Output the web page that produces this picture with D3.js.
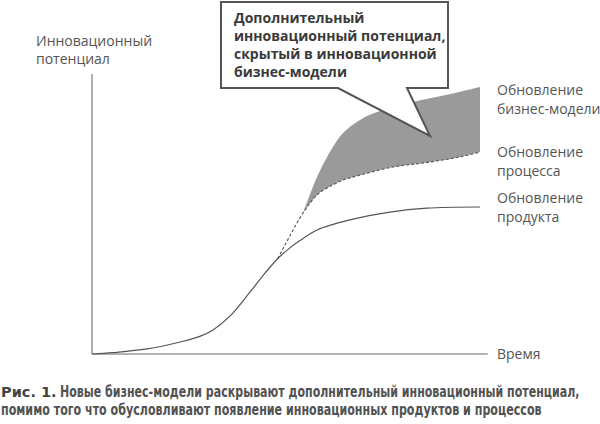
<!DOCTYPE html>
<html><head><meta charset="utf-8">
<script src="https://cdn.jsdelivr.net/npm/d3@7"></script>
<style>html,body{margin:0;padding:0;background:#fff;}</style>
</head><body>
<svg id="c" width="600" height="424"></svg>
<script>
// ---- data (x: time 0..100, y: innovation potential 0..100) ----
const productCurve = [[0,0],[5.4,0.5],[14.2,1.8],[22.7,4.3],[27.8,6.3],[31.2,8.6],[35.6,13.6],[40.7,22.1],[44.6,28.9],[47.9,34.1],[51,37.9],[53.6,40.5],[58,44.3],[66.5,47.9],[76.8,50.7],[86.3,52.1],[100,52.5]];
const processCurve = [[47.9,34.1],[54.4,50.4],[58,56.8],[60.6,59.3],[64.7,62.1],[69.1,63.9],[77.6,66.8],[86.3,68.4],[94.8,70.4],[100,72.1]];
const businessModelCurve = [[54.4,50.4],[58,63.2],[60.6,70.4],[64.7,78.9],[69.1,83.6],[73.5,86.4],[82.7,90],[91.5,92.6],[100,95.4]];
const seriesLabels = [
  {lines:["Обновление","бизнес-модели"], y0:95},
  {lines:["Обновление","процесса"], y0:157},
  {lines:["Обновление","продукта"], y0:203}
];
const yAxisLabel = ["Инновационный","потенциал"];
const xAxisLabel = "Время";
const calloutLines = ["Дополнительный","инновационный потенциал,","скрытый в инновационной","бизнес-модели"];
const captionBold = "Рис. 1.";
const captionLines = ["Новые бизнес-модели раскрывают дополнительный инновационный потенциал,","помимо того что обусловливают появление инновационных продуктов и процессов"];

const svg = d3.select("#c");
const x = d3.scaleLinear().domain([0,100]).range([92,480]);
const y = d3.scaleLinear().domain([0,100]).range([354,74]);
const xEnd = 102;

const line = d3.line().x(d=>x(d[0])).y(d=>y(d[1])).curve(d3.curveCatmullRom.alpha(0.5));

// shaded area between business model curve and process curve
const procTail = processCurve.filter(d=>d[0]>=54.4);
const topPath = line(businessModelCurve);
const botPath = line(procTail.slice().reverse());
svg.append("path").attr("d", topPath + "L" + botPath.slice(1) + "Z")
  .attr("fill","#9a9a9a").attr("stroke","none");

// axes
svg.append("line").attr("x1",x(0)).attr("x2",x(0)).attr("y1",y(0)).attr("y2",y(100))
  .attr("stroke","#8a8a8a").attr("stroke-width",1.4);
svg.append("line").attr("x1",x(0)).attr("x2",x(xEnd)).attr("y1",y(0)).attr("y2",y(0))
  .attr("stroke","#9a9a9a").attr("stroke-width",1.6);

// curves
svg.append("path").attr("d",line(processCurve)).attr("fill","none")
  .attr("stroke","#555").attr("stroke-width",1.1).attr("stroke-dasharray","3,2");
svg.append("path").attr("d",line(productCurve)).attr("fill","none")
  .attr("stroke","#555").attr("stroke-width",1.2);

// series labels
const lab = svg.append("g").attr("font-family","'Open Sans', sans-serif").attr("font-size",14).attr("fill","#555");
seriesLabels.forEach(s=>{
  s.lines.forEach((t,i)=>lab.append("text").attr("x",497).attr("y",s.y0+i*19).text(t));
});
yAxisLabel.forEach((t,i)=>lab.append("text").attr("x",36).attr("y",46+i*18).text(t));
lab.append("text").attr("x",497).attr("y",359).text(xAxisLabel);

// callout
const co = {l:221,t:2,r:448,b:88,p1:338,p2:407,tipX:430,tipY:136};
const cpath = d3.path();
cpath.moveTo(co.l,co.t); cpath.lineTo(co.r,co.t); cpath.lineTo(co.r,co.b); cpath.lineTo(co.p2,co.b);
cpath.lineTo(co.tipX,co.tipY); cpath.lineTo(co.p1,co.b); cpath.lineTo(co.l,co.b); cpath.closePath();
svg.append("path").attr("d",cpath.toString()).attr("fill","#fff").attr("stroke","#555").attr("stroke-width",2).attr("stroke-linejoin","miter");
const ct = svg.append("g").attr("font-family","'Open Sans', sans-serif").attr("font-size",14).attr("font-weight","bold").attr("fill","#3a3a3a");
calloutLines.forEach((t,i)=>ct.append("text").attr("x",234).attr("y",23+i*18).text(t));

// caption (condensed look: horizontally scaled to the reference width)
svg.append("text").attr("x",1).attr("y",397).attr("font-family","'DejaVu Sans', sans-serif")
  .attr("font-size",14.5).attr("font-weight","bold").attr("fill","#444").text(captionBold);
const capSpec = [{x:60,y:397,w:520},{x:1,y:415,w:541}];
captionLines.forEach((t,i)=>{
  const g = svg.append("g");
  const tx = g.append("text").attr("x",0).attr("y",0)
    .attr("font-family","'DejaVu Sans Condensed','DejaVu Sans',sans-serif")
    .attr("font-size",15.5).attr("font-weight","bold").attr("fill","#525252").text(t);
  const natural = tx.node().getComputedTextLength();
  const sx = capSpec[i].w / natural;
  g.attr("transform",`translate(${capSpec[i].x},${capSpec[i].y}) scale(${sx},1)`);
});
</script>
</body></html>
